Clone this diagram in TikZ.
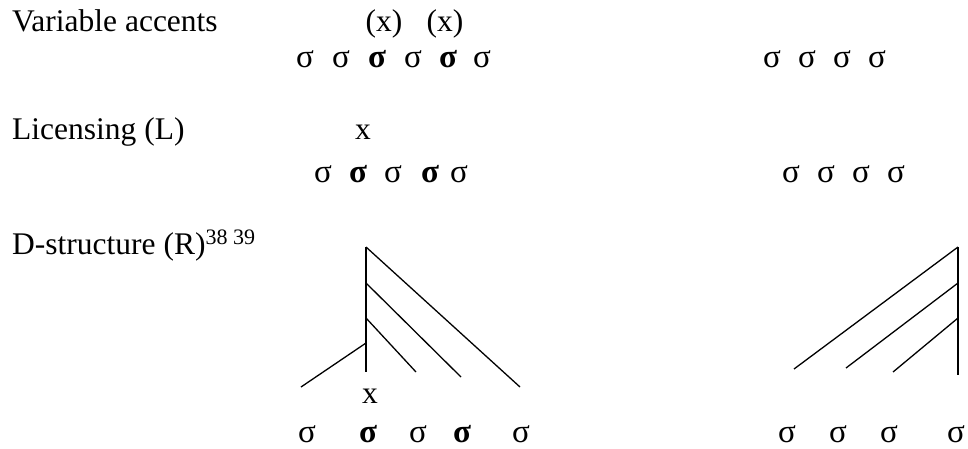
\documentclass[tikz,border=0pt]{standalone}
\usepackage{fontspec}
\setmainfont{Liberation Serif}
\begin{document}
\begin{tikzpicture}[x=1pt,y=-1pt,
  lbl/.style={anchor=base west,inner sep=0,font=\fontsize{31.5}{36}\selectfont},
  acc/.style={anchor=base,inner sep=0,font=\fontsize{31.5}{36}\selectfont},
  syl/.style={anchor=base,inner sep=0,text depth=0pt,font=\fontsize{33}{36}\selectfont},
  branch/.style={line width=1.3pt}]
\useasboundingbox (0,0) rectangle (968,448);
% Row 1
\node[lbl] (l1) at (12,31) {Variable accents};
\node[acc] (ax1) at (384,31) {(x)};
\node[acc] (ax2) at (445,31) {(x)};
\node[syl] (a1) at (305,67) {σ};
\node[syl] (a2) at (341,67) {σ};
\node[syl] (a3) at (377,67) {\textbf{σ}};
\node[syl] (a4) at (413,67) {σ};
\node[syl] (a5) at (448,67) {\textbf{σ}};
\node[syl] (a6) at (482,67) {σ};
\node[syl] (b1) at (772,67) {σ};
\node[syl] (b2) at (807,67) {σ};
\node[syl] (b3) at (842,67) {σ};
\node[syl] (b4) at (877,67) {σ};
% Row 2
\node[lbl] (l2) at (12,139) {Licensing (L)};
\node[acc] (lx) at (363,139) {x};
\node[syl] (c1) at (323,182) {σ};
\node[syl] (c2) at (358,182) {\textbf{σ}};
\node[syl] (c3) at (393,182) {σ};
\node[syl] (c4) at (430,182) {\textbf{σ}};
\node[syl] (c5) at (459,182) {σ};
\node[syl] (d1) at (791,182) {σ};
\node[syl] (d2) at (826,182) {σ};
\node[syl] (d3) at (861,182) {σ};
\node[syl] (d4) at (896,182) {σ};
% Row 3
\node[lbl] (l3) at (12,254) {D-structure (R)\textsuperscript{38 39}};
\node[acc] (tx) at (370,403) {x};
\node[syl] (e1) at (307,442) {σ};
\node[syl] (e2) at (368,442) {\textbf{σ}};
\node[syl] (e3) at (418,442) {σ};
\node[syl] (e4) at (462,442) {\textbf{σ}};
\node[syl] (e5) at (521,442) {σ};
\node[syl] (f1) at (787,442) {σ};
\node[syl] (f2) at (838,442) {σ};
\node[syl] (f3) at (889,442) {σ};
\node[syl] (f4) at (956,442) {σ};
% Left tree
\coordinate (LT) at (366,247);
\coordinate (L2) at (366,283);
\coordinate (L3) at (366,318);
\coordinate (L4) at (366,343);
\coordinate (LB) at (366,372);
\coordinate (LE1) at (520,387);
\coordinate (LE2) at (461,377);
\coordinate (LE3) at (416,372);
\coordinate (LE4) at (301,387);
\draw[branch] (LT) -- (LB);
\draw[branch] (LT) -- (LE1);
\draw[branch] (L2) -- (LE2);
\draw[branch] (L3) -- (LE3);
\draw[branch] (L4) -- (LE4);
% Right tree
\coordinate (RT) at (958,247);
\coordinate (R2) at (958,283);
\coordinate (R3) at (958,318);
\coordinate (RB) at (958,375);
\coordinate (RE1) at (794,369);
\coordinate (RE2) at (846,368);
\coordinate (RE3) at (893,372);
\draw[branch] (RT) -- (RB);
\draw[branch] (RT) -- (RE1);
\draw[branch] (R2) -- (RE2);
\draw[branch] (R3) -- (RE3);
\end{tikzpicture}
\end{document}
